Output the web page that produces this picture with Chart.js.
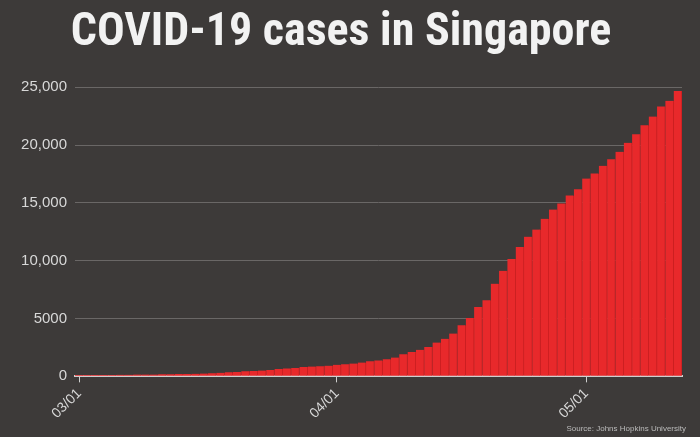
<!DOCTYPE html>
<html><head><meta charset="utf-8">
<script src="https://cdn.jsdelivr.net/npm/chart.js@4"></script>
<style>html,body{margin:0;padding:0;background:#3d3a39;overflow:hidden}
#w{position:relative;width:700px;height:437px}
#src{position:absolute;right:14px;bottom:4px;font:8px 'Liberation Sans',Arial;color:#bbb}</style>
</head><body><div id="w"><canvas id="c" width="700" height="437"></canvas><div id="src">Source: Johns Hopkins University</div></div>
<script>
const dates = [];
const marchDays = 31, aprilDays = 30, mayDays = 12;
for (let d=1; d<=marchDays; d++) dates.push('03/'+String(d).padStart(2,'0'));
for (let d=1; d<=aprilDays; d++) dates.push('04/'+String(d).padStart(2,'0'));
for (let d=1; d<=mayDays; d++) dates.push('05/'+String(d).padStart(2,'0'));
const cases = [106,108,110,112,117,130,138,150,150,160,178,187,200,212,226,243,266,313,345,385,432,455,509,558,631,683,732,802,844,879,926,
1000,1049,1114,1189,1309,1375,1481,1623,1910,2108,2299,2532,2918,3252,3699,4427,5050,5992,6588,8014,9125,10141,11178,12075,12693,13624,14423,14951,15641,16169,
17101,17548,18205,18778,19410,20198,20939,21707,22460,23336,23822,24671];
const shownTicks = ['03/01','04/01','05/01'];
const yTicks = [0,5000,10000,15000,20000,25000];
new Chart(document.getElementById('c'), {
  type:'bar',
  data:{labels:dates,datasets:[{data:cases,backgroundColor:'#e8292b',borderColor:'#c41e20',borderWidth:{left:0,right:1,top:0,bottom:0},categoryPercentage:1,barPercentage:1}]},
  options:{responsive:false,animation:false,devicePixelRatio:1,
    layout:{padding:{left:0,right:18,top:0,bottom:12}},
    plugins:{legend:{display:false},tooltip:{enabled:false},
      title:{display:true,text:'COVID-19 cases in Singapore',color:'#f2f2f2',
        font:{family:"'Liberation Sans Narrow','Roboto Condensed',Arial",size:46,weight:'bold'},padding:{top:6,bottom:26}}},
    scales:{
      y:{min:0,max:25000,afterFit(s){s.width=75;},afterBuildTicks(s){s.ticks=yTicks.map(v=>({value:v}));},
        border:{display:false},grid:{color:'#6a6766',lineWidth:1,drawTicks:false},
        ticks:{color:'#d8d8d8',padding:8,font:{family:"'Liberation Sans',Arial",size:15},
          callback:v=>v>=10000?v.toLocaleString('en-US'):String(v)}},
      x:{offset:true,border:{display:true,color:'#cfcfcf',width:2},
        grid:{display:true,drawOnChartArea:false,offset:false,tickLength:6,
          color:c=>shownTicks.includes(dates[c.index])?'#cfcfcf':'rgba(0,0,0,0)'},
        ticks:{autoSkip:false,maxRotation:45,minRotation:45,color:'#d8d8d8',font:{family:"'Liberation Sans',Arial",size:14},
          callback(v){const l=dates[v];return shownTicks.includes(l)?l:'';}}}
    }}
});
</script></body></html>
